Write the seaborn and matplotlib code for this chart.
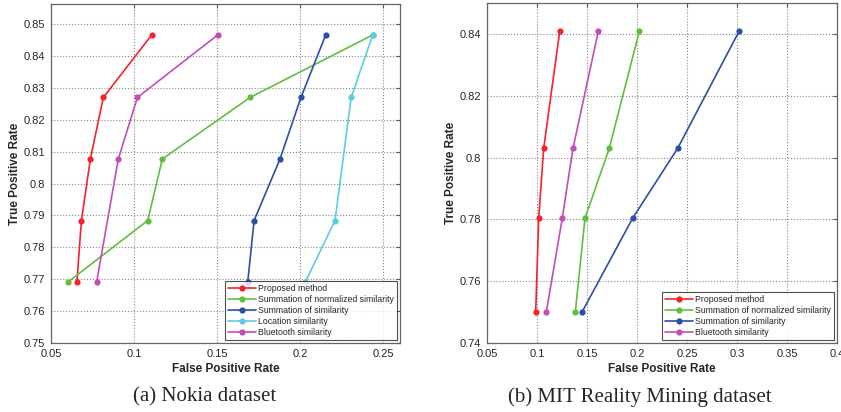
import pandas as pd
import matplotlib
matplotlib.use("Agg")
import matplotlib.pyplot as plt
import seaborn as sns
from matplotlib.ticker import FuncFormatter

# Nokia dataset (a)
nokia_series = ["Proposed method", "Summation of normalized similarity",
                "Summation of similarity", "Location similarity", "Bluetooth similarity"]
nokia_fpr = {
    "Proposed method": [0.1106, 0.0815, 0.0737, 0.0683, 0.0656],
    "Summation of normalized similarity": [0.2436, 0.1698, 0.1170, 0.1082, 0.0604],
    "Summation of similarity": [0.2153, 0.2004, 0.1878, 0.1722, 0.1684],
    "Location similarity": [0.2436, 0.2306, 0.2209, 0.2031],
    "Bluetooth similarity": [0.1503, 0.1020, 0.0905, 0.0775],
}
nokia_tpr = {
    "Proposed method": [0.8466, 0.8270, 0.8077, 0.7884, 0.7692],
    "Summation of normalized similarity": [0.8466, 0.8270, 0.8077, 0.7884, 0.7692],
    "Summation of similarity": [0.8466, 0.8270, 0.8077, 0.7884, 0.7692],
    "Location similarity": [0.8466, 0.8270, 0.7884, 0.7692],
    "Bluetooth similarity": [0.8466, 0.8270, 0.8077, 0.7692],
}

# MIT Reality Mining dataset (b)
mit_series = ["Proposed method", "Summation of normalized similarity",
              "Summation of similarity", "Bluetooth similarity"]
mit_tpr_levels = [0.8408, 0.8030, 0.7804, 0.7500]
mit_fpr = {
    "Proposed method": [0.1227, 0.1067, 0.1017, 0.0987],
    "Summation of normalized similarity": [0.2023, 0.1723, 0.1480, 0.1383],
    "Summation of similarity": [0.3020, 0.2407, 0.1957, 0.1450],
    "Bluetooth similarity": [0.1613, 0.1360, 0.1253, 0.1093],
}

colors = {
    "Proposed method": "#f5222a",
    "Summation of normalized similarity": "#62bf3c",
    "Summation of similarity": "#2e4ea5",
    "Location similarity": "#5ccde0",
    "Bluetooth similarity": "#c24db5",
}

sns.set_style("white")
plt.rcParams["font.family"] = ["Liberation Sans", "DejaVu Sans"]

fig = plt.figure(figsize=(8.41, 4.12), dpi=100)
ax1 = fig.add_axes([51 / 841, 69 / 412, 349 / 841, 339 / 412])
ax2 = fig.add_axes([487 / 841, 69 / 412, 350 / 841, 340 / 412])


def draw(ax, series, xs, ys):
    for name in series:
        df = pd.DataFrame({"fpr": xs[name], "tpr": ys[name]})
        sns.lineplot(data=df, x="fpr", y="tpr", ax=ax, sort=False, estimator=None,
                     color=colors[name], marker="o", markersize=4.5,
                     markeredgewidth=0, linewidth=1.2, label=name)


draw(ax1, nokia_series, nokia_fpr, nokia_tpr)
draw(ax2, mit_series, mit_fpr, {k: mit_tpr_levels for k in mit_series})

fmt = FuncFormatter(lambda v, p: f"{v:g}")
ax1.set_xlim(0.05, 0.26)
ax1.set_ylim(0.75, 0.8563)
ax1.set_xticks([0.05, 0.1, 0.15, 0.2, 0.25])
ax1.set_yticks([0.75 + 0.01 * i for i in range(11)])
ax2.set_xlim(0.05, 0.4)
ax2.set_ylim(0.74, 0.85)
ax2.set_xticks([0.05 + 0.05 * i for i in range(8)])
ax2.set_yticks([0.74, 0.76, 0.78, 0.8, 0.82, 0.84])

for ax in (ax1, ax2):
    ax.xaxis.set_major_formatter(fmt)
    ax.yaxis.set_major_formatter(fmt)
    ax.grid(True, linestyle=":", color="#888888", linewidth=0.8)
    ax.tick_params(direction="in", length=3, width=0.8, top=True, right=True,
                   labelsize=8, pad=4, color="#555555")
    for s in ax.spines.values():
        s.set_color("#666666")
        s.set_linewidth(0.9)
    ax.set_xlabel("False Positive Rate", fontsize=8.5, fontweight="bold", labelpad=3)
    ax.set_ylabel("True Positive Rate", fontsize=8.5, fontweight="bold", labelpad=2)
    leg = ax.legend(loc="lower right", fontsize=6.3, frameon=True, fancybox=False,
                    borderaxespad=0.3, handlelength=3.2, handletextpad=0.3,
                    labelspacing=0.25, borderpad=0.35)
    leg.get_frame().set_edgecolor("#222222")
    leg.get_frame().set_linewidth(0.8)

fig.text(205 / 841, 1 - 397 / 412, "(a) Nokia dataset", ha="center", va="center",
         fontsize=15, family=["Liberation Serif", "DejaVu Serif"])
fig.text(640 / 841, 1 - 397 / 412, "(b) MIT Reality Mining dataset", ha="center",
         va="center", fontsize=15, family=["Liberation Serif", "DejaVu Serif"])

fig.savefig("out.png", dpi=100)
